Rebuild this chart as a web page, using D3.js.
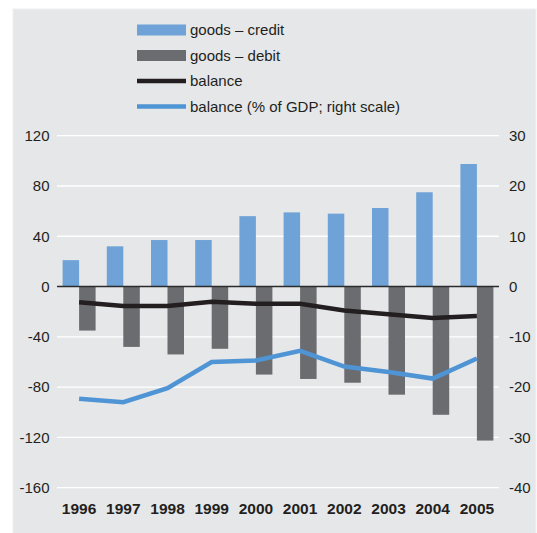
<!DOCTYPE html>
<meta charset="utf-8">
<style>
body { margin: 0; background: #fff; }
svg { font-family: "Liberation Sans", Arial, sans-serif; }
</style>
<body>
<script src="https://cdnjs.cloudflare.com/ajax/libs/d3/7.8.5/d3.min.js"></script>
<script>
// data
var years = ["1996","1997","1998","1999","2000","2001","2002","2003","2004","2005"];
var credit = [21, 32, 37, 37, 56, 59, 58, 62.5, 75, 97.5];
var debit = [-35, -48, -54, -49.5, -70, -73.5, -76.5, -86, -102, -122.5];
var balance = [-12.5, -15.5, -15.5, -12, -13.7, -13.7, -19, -22, -25, -23.5];
var balanceGdp = [-22.3, -23, -20.2, -15, -14.7, -12.8, -15.9, -17, -18.3, -14.3];
var leftTicks = [120, 80, 40, 0, -40, -80, -120, -160];
var rightTicks = [30, 20, 10, 0, -10, -20, -30, -40];
var legendLabels = ["goods \u2013 credit", "goods \u2013 debit", "balance", "balance (% of GDP; right scale)"];

var W = 537, H = 533;
var plot = {left: 57, right: 499, top: 135.7, bottom: 487.7};

var svg = d3.select("body").append("svg")
  .attr("width", W)
  .attr("height", H);

// panel
svg.append("rect")
  .attr("x", 13).attr("y", 9)
  .attr("width", 523).attr("height", 530)
  .attr("fill", "#e6e7e9")
  .attr("stroke", "#f0f0f1");

var x = d3.scaleBand().domain(years).range([plot.left, plot.right]).paddingInner(0).paddingOuter(0);
var y = d3.scaleLinear().domain([-160, 120]).range([plot.bottom, plot.top]);
var y2 = d3.scaleLinear().domain([-40, 30]).range([plot.bottom, plot.top]);

// grid
svg.append("g").selectAll("line")
  .data(leftTicks.filter(function(d) { return d != 0; }))
  .enter().append("line")
    .attr("x1", plot.left).attr("x2", plot.right)
    .attr("y1", function(d) { return y(d); })
    .attr("y2", function(d) { return y(d); })
    .attr("stroke", "#fff")
    .attr("stroke-width", 1.3);

var barW = 16.5, gap = 5.6;

svg.append("g").selectAll("rect")
  .data(credit)
  .enter().append("rect")
    .attr("x", function(d, i) { return x(years[i]) + gap; })
    .attr("y", function(d) { return y(d); })
    .attr("width", barW)
    .attr("height", function(d) { return y(0) - y(d); })
    .attr("fill", "#6fa2d6");

svg.append("g").selectAll("rect")
  .data(debit)
  .enter().append("rect")
    .attr("x", function(d, i) { return x(years[i]) + gap + barW; })
    .attr("y", y(0))
    .attr("width", barW)
    .attr("height", function(d) { return y(d) - y(0); })
    .attr("fill", "#6b6c70");

// zero line
svg.append("line")
  .attr("x1", plot.left).attr("x2", plot.right)
  .attr("y1", y(0)).attr("y2", y(0))
  .attr("stroke", "#2b2b2b")
  .attr("stroke-width", 1.5);

var cx = function(i) { return x(years[i]) + x.bandwidth() / 2; };

svg.append("path")
  .datum(balance)
  .attr("fill", "none")
  .attr("stroke", "#231f20")
  .attr("stroke-width", 4.5)
  .attr("d", d3.line().x(function(d, i) { return cx(i); }).y(function(d) { return y(d); }));

svg.append("path")
  .datum(balanceGdp)
  .attr("fill", "none")
  .attr("stroke", "#4f94d4")
  .attr("stroke-width", 4.5)
  .attr("d", d3.line().x(function(d, i) { return cx(i); }).y(function(d) { return y2(d); }));

// axes (plain hyphen for minus, like the original)
var left = svg.append("g")
  .attr("transform", "translate(" + (plot.left - 7) + ",0)")
  .call(d3.axisLeft(y).tickValues(leftTicks).tickFormat(String).tickSize(0).tickPadding(0));
var right = svg.append("g")
  .attr("transform", "translate(" + (plot.right + 10) + ",0)")
  .call(d3.axisRight(y2).tickValues(rightTicks).tickFormat(String).tickSize(0).tickPadding(0));
var bottom = svg.append("g")
  .attr("transform", "translate(0," + (plot.bottom + 12) + ")")
  .call(d3.axisBottom(x).tickSize(0).tickPadding(0));

[left, right, bottom].forEach(function(g) {
  g.select(".domain").remove();
  g.selectAll("text").attr("fill", "#231f20").style("font-size", "15px").style("font-family", "Liberation Sans, Arial, sans-serif");
});
left.selectAll("text").attr("dx", "-0.5px");
bottom.selectAll("text").style("font-weight", "bold").style("font-size", "15.5px").attr("dy", "0.9em");

// legend
var legend = svg.append("g");
var lx = 137, lw = 49, ly0 = 30, lstep = 25.5;
legendLabels.forEach(function(lab, i) {
  var yy = ly0 + i * lstep;
  if (i < 2) {
    legend.append("rect")
      .attr("x", lx).attr("y", yy - 5.5)
      .attr("width", lw).attr("height", 11)
      .attr("fill", i == 0 ? "#6fa2d6" : "#6b6c70");
  } else {
    legend.append("line")
      .attr("x1", lx).attr("x2", lx + lw)
      .attr("y1", yy).attr("y2", yy)
      .attr("stroke", i == 2 ? "#231f20" : "#4f94d4")
      .attr("stroke-width", 4.5);
  }
  legend.append("text")
    .attr("x", lx + lw + 4)
    .attr("y", yy)
    .attr("dy", "0.35em")
    .attr("fill", "#231f20")
    .style("font-size", "15px")
    .text(lab);
});
</script>
